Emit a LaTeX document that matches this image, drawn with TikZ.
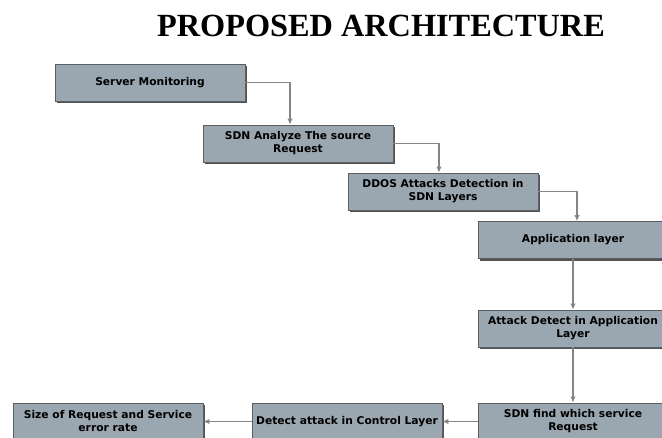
\documentclass[tikz,border=0pt]{standalone}
\usepackage{fontspec}
\setmainfont{DejaVu Sans}
\newfontfamily\headfont{Liberation Serif}
\usetikzlibrary{arrows.meta,shadows}
\definecolor{boxcol}{HTML}{9AA7B0}
\definecolor{edgecol}{HTML}{5A5F63}
\definecolor{linkcol}{HTML}{858585}
\newcommand{\stage}[4]{% #1 name, #2 x, #3 y, #4 text
  \node[stagebox] (#1) at (#2,#3) {#4};
}

\begin{document}
\begin{tikzpicture}[x=1bp,y=-1bp,
    stagebox/.style={draw=edgecol, line width=0.8bp, fill=boxcol,
      minimum width=190bp, minimum height=37bp, inner sep=0pt,
      align=center, font=\fontsize{10.7bp}{13bp}\selectfont\bfseries,
      drop shadow={shadow xshift=2.2bp, shadow yshift=-2.2bp, fill=black!75, opacity=0.9}},
    link/.style={draw=linkcol, line width=1.6bp, -{Latex[length=6bp,width=5.5bp,fill=black!60]}}]
  \useasboundingbox (0,0) rectangle (662,438);
  \node[font=\headfont\fontsize{32.3bp}{36bp}\selectfont\bfseries] (title) at (381,26) {PROPOSED ARCHITECTURE};
  % top chain, stepping to the right
  \stage{srv}{150}{82.5}{Server Monitoring}
  \stage{ana}{298}{143.5}{SDN Analyze The source\\Request}
  \stage{ddos}{443}{191.5}{DDOS Attacks Detection in\\SDN Layers}
  \stage{app}{573}{240}{Application layer}
  \stage{adet}{573}{328.5}{Attack Detect in Application\\Layer}
  % bottom row, right to left
  \stage{find}{573}{421.5}{SDN find which service\\Request}
  \stage{ctrl}{347}{421.5}{Detect attack in Control Layer}
  \stage{size}{108}{421.5}{Size of Request and Service\\error rate}
  \draw[link] (srv.east) -| ([xshift=-8bp]ana.north);
  \draw[link] (ana.east) -| ([xshift=-4bp]ddos.north);
  \draw[link] (ddos.east) -| ([xshift=4bp]app.north);
  \draw[link] (app) -- (adet);
  \draw[link] (adet) -- (find);
  \draw[link] (find) -- (ctrl);
  \draw[link] (ctrl) -- (size);
\end{tikzpicture}
\end{document}
